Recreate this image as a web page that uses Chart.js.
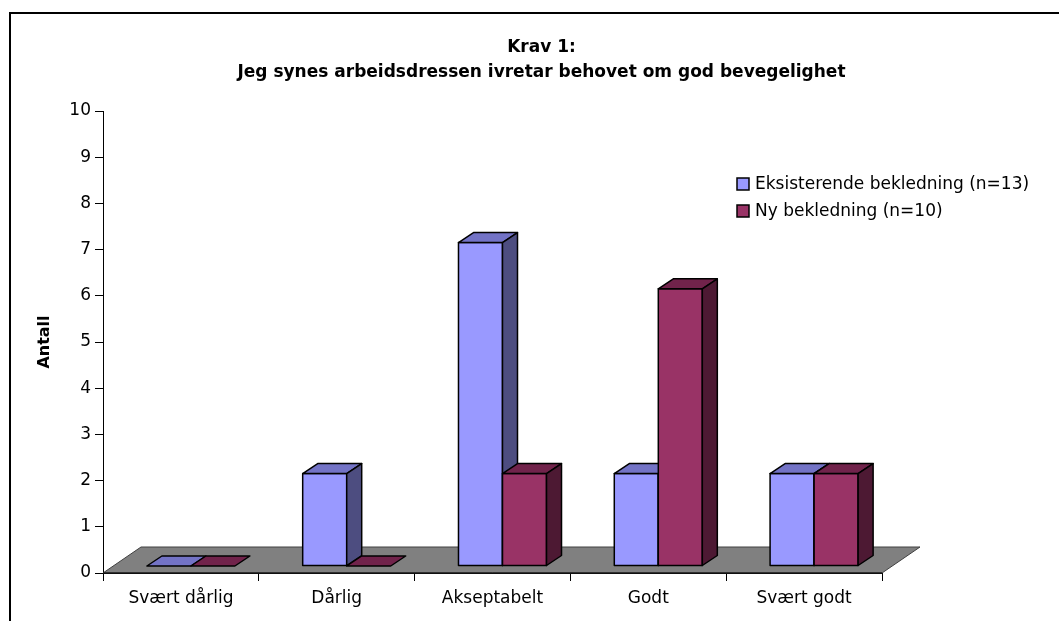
<!DOCTYPE html>
<html>
<head>
<meta charset="utf-8">
<script src="https://cdn.jsdelivr.net/npm/chart.js@4.4.1/dist/chart.umd.min.js"></script>
<style>
  html, body { margin: 0; padding: 0; background: #fff; }
  #wrap { width: 1059px; height: 621px; }
</style>
</head>
<body>
<div id="wrap"><canvas id="kravChart" width="1059" height="621"></canvas></div>
<script>
  // Data
  const categories = ['Svært dårlig', 'Dårlig', 'Akseptabelt', 'Godt', 'Svært godt'];
  const eksisterende = [0, 2, 7, 2, 2];
  const nyBekledning = [0, 0, 2, 6, 2];
  const seriesLabels = ['Eksisterende bekledning (n=13)', 'Ny bekledning (n=10)'];
  const titleLines = ['Krav 1:', 'Jeg synes arbeidsdressen ivretar behovet om god bevegelighet'];
  const yTitle = 'Antall';

  // Face colours for the 3D look: front, top, side
  const shades = [
    { front: '#9999FF', top: '#7373C6', side: '#4D4D80' },
    { front: '#993366', top: '#71234B', side: '#4D1933' }
  ];

  const FONT = "'DejaVu Sans', sans-serif";
  const shift = { x: 10, y: -7 };        // bars stand a little back on the floor
  const depth = { x: 15, y: -10 };       // bar depth
  const floorDepth = { x: 38, y: -26 };  // floor depth

  function drawBox(ctx, bar, c) {
    const { x, y, base, width } = bar.getProps(['x', 'y', 'base', 'width'], true);
    const l = x - width / 2, r = x + width / 2;
    // front face
    if (base - y > 0.5) {
      ctx.fillStyle = c.front;
      ctx.fillRect(l, y, width, base - y);
      ctx.strokeRect(l, y, width, base - y);
    }
    // top face
    ctx.beginPath();
    ctx.moveTo(l, y);
    ctx.lineTo(l + depth.x, y + depth.y);
    ctx.lineTo(r + depth.x, y + depth.y);
    ctx.lineTo(r, y);
    ctx.closePath();
    ctx.fillStyle = c.top;
    ctx.fill();
    ctx.stroke();
    // side face
    if (base - y > 0.5) {
      ctx.beginPath();
      ctx.moveTo(r, y);
      ctx.lineTo(r + depth.x, y + depth.y);
      ctx.lineTo(r + depth.x, base + depth.y);
      ctx.lineTo(r, base);
      ctx.closePath();
      ctx.fillStyle = c.side;
      ctx.fill();
      ctx.stroke();
    }
  }

  // Draws frame, floor, 3D bars and legend
  const threeD = {
    id: 'threeD',
    beforeDraw(chart) {
      const ctx = chart.ctx;
      ctx.save();
      ctx.strokeStyle = '#000';
      ctx.lineWidth = 2;
      ctx.strokeRect(10, 13, 1200, 800);
      ctx.restore();
    },
    beforeDatasetsDraw(chart) {
      const ctx = chart.ctx;
      const area = chart.chartArea;
      const y0 = chart.scales.y.getPixelForValue(0);
      ctx.save();
      ctx.beginPath();
      ctx.moveTo(area.left, y0);
      ctx.lineTo(area.left + floorDepth.x, y0 + floorDepth.y);
      ctx.lineTo(area.right + floorDepth.x, y0 + floorDepth.y);
      ctx.lineTo(area.right, y0);
      ctx.closePath();
      ctx.fillStyle = '#808080';
      ctx.fill();
      ctx.strokeStyle = '#404040';
      ctx.lineWidth = 1;
      ctx.stroke();
      ctx.beginPath();
      ctx.moveTo(area.left, y0);
      ctx.lineTo(area.right, y0);
      ctx.strokeStyle = '#000';
      ctx.stroke();
      ctx.restore();
    },
    // library bars are skipped, the boxes are drawn in afterDatasetsDraw
    beforeDatasetDraw() {
      return false;
    },
    afterDatasetsDraw(chart) {
      const ctx = chart.ctx;
      const metas = chart.data.datasets.map((ds, i) => chart.getDatasetMeta(i));
      ctx.save();
      ctx.translate(shift.x, shift.y);
      ctx.strokeStyle = '#000';
      ctx.lineWidth = 1.5;
      ctx.lineJoin = 'round';
      categories.forEach((cat, j) => {
        metas.forEach((meta, i) => drawBox(ctx, meta.data[j], shades[i]));
      });
      ctx.restore();
    },
    afterDraw(chart) {
      const ctx = chart.ctx;
      ctx.save();
      ctx.font = '17px ' + FONT;
      ctx.textBaseline = 'middle';
      ctx.textAlign = 'left';
      chart.data.datasets.forEach((ds, i) => {
        const cy = 184 + i * 27;
        ctx.fillStyle = ds.backgroundColor;
        ctx.fillRect(737, cy - 6, 12, 12);
        ctx.strokeStyle = '#000';
        ctx.lineWidth = 1.5;
        ctx.strokeRect(737, cy - 6, 12, 12);
        ctx.fillStyle = '#000';
        ctx.fillText(ds.label, 755, cy + 1);
      });
      ctx.restore();
    }
  };

  new Chart(document.getElementById('kravChart'), {
    type: 'bar',
    data: {
      labels: categories,
      datasets: [{
        label: seriesLabels[0],
        data: eksisterende,
        backgroundColor: shades[0].front,
        borderColor: '#000',
        borderWidth: 1,
        borderSkipped: false
      }, {
        label: seriesLabels[1],
        data: nyBekledning,
        backgroundColor: shades[1].front,
        borderColor: '#000',
        borderWidth: 1,
        borderSkipped: false
      }]
    },
    options: {
      responsive: false,
      animation: false,
      categoryPercentage: 0.565,
      barPercentage: 1,
      layout: { padding: { left: 24, right: 0, top: 0, bottom: 0 } },
      plugins: {
        legend: { display: false },
        tooltip: { enabled: false },
        title: {
          display: true,
          text: titleLines,
          color: '#000',
          font: { family: FONT, size: 17, weight: 'bold', lineHeight: '25px' },
          padding: { top: 35, bottom: 26 }
        }
      },
      scales: {
        x: {
          grid: { drawOnChartArea: false, tickLength: 8, color: '#000', offset: true },
          border: { display: true, color: '#000' },
          ticks: { font: { family: FONT, size: 17 }, color: '#000', padding: 7, maxRotation: 0 },
          afterFit(scale) { scale.height = 48; }
        },
        y: {
          min: 0,
          max: 10,
          ticks: { stepSize: 1, font: { family: FONT, size: 17 }, color: '#000', padding: 4 },
          grid: { drawOnChartArea: false, tickLength: 8, color: '#000' },
          border: { display: true, color: '#000' },
          title: {
            display: true,
            text: yTitle,
            color: '#000',
            font: { family: FONT, size: 16, weight: 'bold' },
            padding: { top: 11, bottom: 0 }
          },
          afterFit(scale) { scale.width = 79; }
        },
        spacer: {
          position: 'right',
          ticks: { display: false },
          grid: { display: false },
          border: { display: false },
          afterFit(scale) { scale.width = 177; }
        }
      }
    },
    plugins: [threeD]
  });
</script>
</body>
</html>
